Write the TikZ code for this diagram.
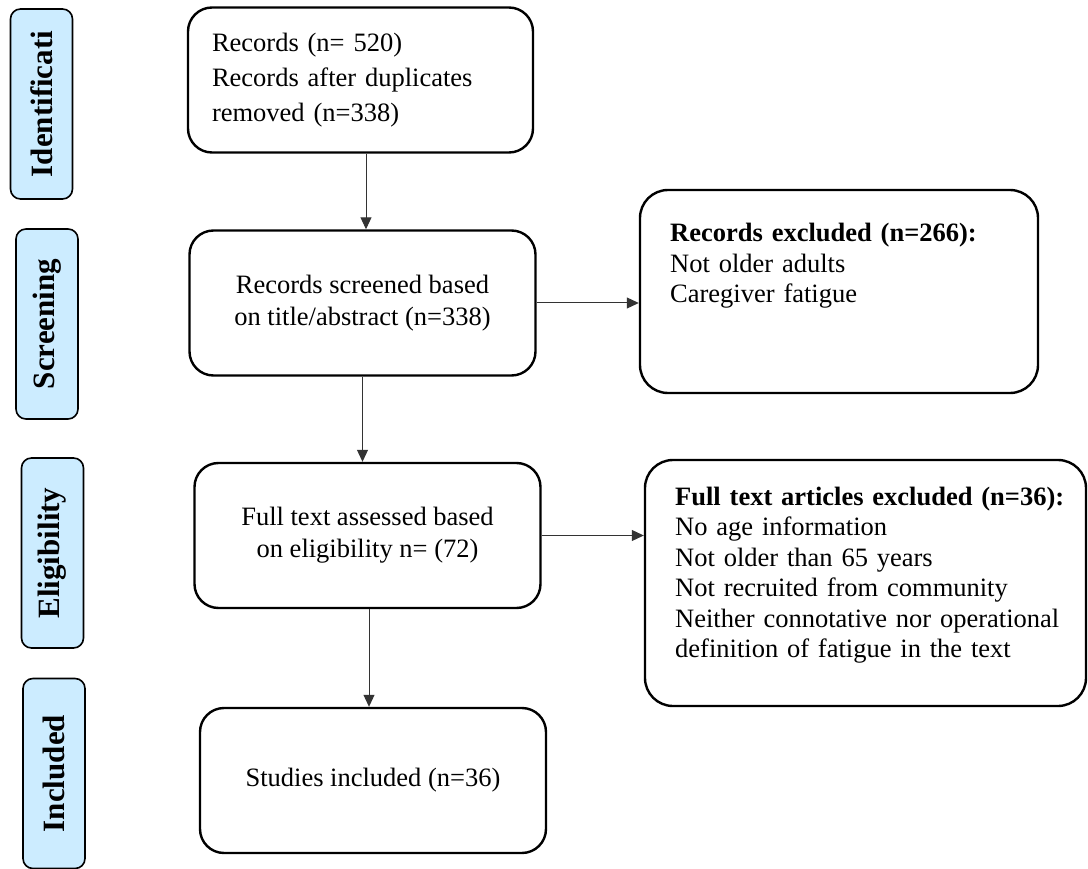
\documentclass[tikz,border=0pt]{standalone}
\usepackage{fontspec}
\setmainfont{Liberation Serif}
\usetikzlibrary{arrows.meta, calc}
\definecolor{tabblue}{RGB}{204,236,255}
\tikzset{
    stage/.style = { draw, line width=1.6pt, fill=tabblue, rounded corners=10pt, rotate=90,
                     minimum width=190pt, minimum height=62pt, inner sep=0pt,
                     font=\fontsize{31}{36}\selectfont\bfseries },
    box/.style = { draw, line width=2.4pt, rounded corners=24pt, minimum width=346pt,
                   minimum height=145pt, align=center, inner sep=0pt },
    exbox/.style = { draw, line width=2.4pt, rounded corners=28pt, inner sep=0pt },
    note/.style = { anchor=base west, inner sep=0pt, align=left, text width=#1 },
    flow/.style = { draw=black!80, line width=1pt, -{Triangle[length=12pt, width=11pt]} }
}

\begin{document}
\begin{tikzpicture}[
    x=1pt, y=-1pt,
    font=\fontsize{26.5}{32}\selectfont
    ]
    \useasboundingbox (0,0) rectangle (1088,869);

    %%%
    %%% Stage tabs on the left
    %%%
    % name, x, y, stage
    \foreach \name / \x / \y / \stage in {ident/41.5/104/Identificati, scrn/47/324/Screening,
                                          elig/52.5/553/Eligibility, incd/54/773.5/Included}
      {
        \node[stage] (\name) at (\x,\y) {\stage};
      }

    %%%
    %%% Main column
    %%%
    \node[box, align=left, text width=297pt, minimum width=345pt,
          font=\fontsize{26.5}{35}\selectfont] (recs) at (360.5,80)
         {Records (n= 520)\\Records after duplicates\\removed (n=338)};
    \node[box] (screen) at (362.5,303) {Records screened based\\on title/abstract (n=338)};
    \node[box] (full) at (367.5,535.5) {Full text assessed based\\on eligibility n= (72)};
    \node[box] (incl) at (373,780.5) {Studies included (n=36)};

    %%%
    %%% Exclusion boxes
    %%%
    % Records excluded
    \node[exbox, minimum width=398pt, minimum height=203pt] (recexcl) at (839,291.5) {};
    \node[note=340pt, font=\fontsize{26.5}{30.5}\selectfont] (recexcltext) at (670,242)
         {\textbf{Records excluded (n=266):}\\Not older adults\\Caregiver fatigue};
    % Full text excluded
    \node[exbox, minimum width=441pt, minimum height=246pt] (fullexcl) at (865.5,583) {};
    \node[note=405pt, font=\fontsize{26.5}{30.5}\selectfont] (fullexcltext) at (675,505)
         {\textbf{Full text articles excluded (n=36):}\\No age information\\Not older than 65 years\\
          Not recruited from community\\Neither connotative nor operational\\definition of fatigue in the text};

    % Arrows down
    \draw[flow] ([xshift=5.5pt]recs.south) -- ([xshift=5.5pt]recs.south |- screen.north);
    \draw[flow] (screen.south) -- (screen.south |- full.north);
    \draw[flow] ([xshift=1.5pt]full.south) -- ([xshift=1.5pt]full.south |- incl.north);
    % Arrows right
    \draw[flow] (screen.east) -- (screen.east -| recexcl.west);
    \draw[flow] (full.east) -- (full.east -| fullexcl.west);
\end{tikzpicture}
\end{document}
